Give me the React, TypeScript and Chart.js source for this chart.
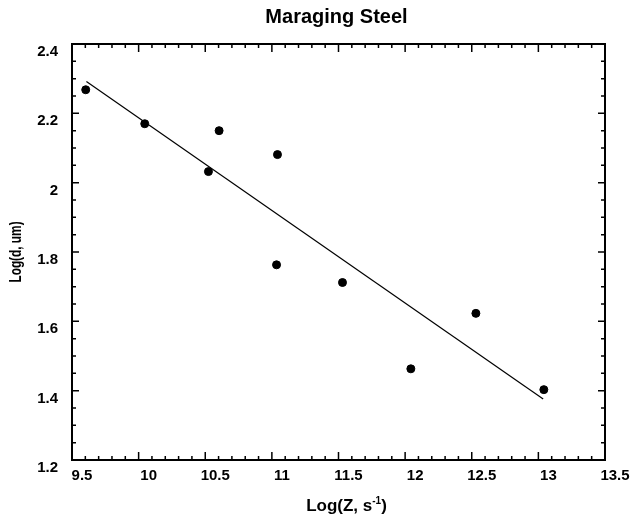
import React, { useEffect, useRef } from "react";
import { Chart, registerables } from "chart.js";

Chart.register(...registerables);

// Measured points: log of Zener-Hollomon parameter vs log of grain size
const logZ = [9.603, 10.046, 10.524, 10.604, 11.042, 11.035, 11.53, 12.043, 12.531, 13.041];
const logD = [2.268, 2.17, 2.032, 2.15, 2.081, 1.763, 1.712, 1.463, 1.623, 1.403];

// Least-squares fit line end points
const fitZ = [9.608, 13.036];
const fitD = [2.292, 1.376];

const xTickLabels = ["9.5", "10", "10.5", "11", "11.5", "12", "12.5", "13", "13.5"];
const yTickLabels = ["1.2", "1.4", "1.6", "1.8", "2", "2.2", "2.4"];

const chartTitle = "Maraging Steel";
const yTitle = "Log(d, um)";
const xTitleMain = "Log(Z, s";
const xTitleSup = "-1";
const xTitleEnd = ")";

const FONT = "'Liberation Sans', Arial, Helvetica, sans-serif";

// Frame with inward major/minor ticks on all four sides, plus titles
const framePlugin = {
  id: "frameTicks",
  afterDraw(chart: any) {
    const { ctx, chartArea } = chart;
    const { left, right, top, bottom } = chartArea;
    const xs = chart.scales.x;
    const ys = chart.scales.y;
    ctx.save();
    ctx.strokeStyle = "#000";
    ctx.lineWidth = 2;
    ctx.strokeRect(left, top, right - left, bottom - top);

    ctx.lineWidth = 1.5;
    ctx.beginPath();
    // x ticks every 0.1, major every 0.5
    for (let i = 0; i <= 40; i++) {
      const v = xs.min + i * 0.1;
      const px = xs.getPixelForValue(v);
      const len = i % 5 === 0 ? 8 : 4;
      ctx.moveTo(px, bottom);
      ctx.lineTo(px, bottom - len);
      ctx.moveTo(px, top);
      ctx.lineTo(px, top + len);
    }
    // y ticks every 0.05, major every 0.2
    for (let i = 0; i <= 24; i++) {
      const v = ys.min + i * 0.05;
      const py = ys.getPixelForValue(v);
      const len = i % 4 === 0 ? 7 : 4;
      ctx.moveTo(left, py);
      ctx.lineTo(left + len, py);
      ctx.moveTo(right, py);
      ctx.lineTo(right - len, py);
    }
    ctx.stroke();

    ctx.fillStyle = "#000";
    // chart title
    ctx.font = `bold 20px ${FONT}`;
    ctx.textAlign = "center";
    ctx.textBaseline = "alphabetic";
    ctx.fillText(chartTitle, (left + right) / 2 - 2, 23);

    // x axis title with superscript
    const big = `bold 17px ${FONT}`;
    const small = `bold 10px ${FONT}`;
    ctx.font = big;
    const w1 = ctx.measureText(xTitleMain).width;
    const w3 = ctx.measureText(xTitleEnd).width;
    ctx.font = small;
    const w2 = ctx.measureText(xTitleSup).width;
    const total = w1 + w2 + w3;
    let x0 = (left + right) / 2 + 8 - total / 2;
    const base = 511;
    ctx.textAlign = "left";
    ctx.font = big;
    ctx.fillText(xTitleMain, x0, base);
    x0 += w1;
    ctx.font = small;
    ctx.fillText(xTitleSup, x0, base - 7);
    x0 += w2;
    ctx.font = big;
    ctx.fillText(xTitleEnd, x0, base);

    // y axis title, narrow lettering
    ctx.translate(17, (top + bottom) / 2);
    ctx.rotate(-Math.PI / 2);
    ctx.scale(0.74, 1);
    ctx.font = `bold 16px ${FONT}`;
    ctx.textAlign = "center";
    ctx.textBaseline = "middle";
    ctx.fillText(yTitle, 0, 0);
    ctx.restore();
  },
};

export default function App() {
  const canvasRef = useRef<HTMLCanvasElement | null>(null);

  useEffect(() => {
    const canvas = canvasRef.current;
    if (!canvas) return;
    const scatterData = logZ.map((z, i) => ({ x: z, y: logD[i] }));
    const fitData = fitZ.map((z, i) => ({ x: z, y: fitD[i] }));

    const chart = new Chart(canvas, {
      type: "scatter",
      data: {
        datasets: [
          {
            type: "line",
            data: fitData,
            borderColor: "#000",
            borderWidth: 1.2,
            pointRadius: 0,
            fill: false,
          } as any,
          {
            data: scatterData,
            backgroundColor: "#000",
            borderColor: "#000",
            pointRadius: 4,
            pointHoverRadius: 4,
          },
        ],
      },
      options: {
        animation: false,
        responsive: true,
        maintainAspectRatio: false,
        layout: { padding: { top: 44, right: 29, left: 0, bottom: 0 } },
        plugins: {
          legend: { display: false },
          title: { display: false },
          tooltip: { enabled: false },
        },
        scales: {
          x: {
            type: "linear",
            min: 9.5,
            max: 13.5,
            grid: { display: false, drawTicks: false },
            border: { display: false },
            ticks: {
              stepSize: 0.5,
              padding: 7,
              labelOffset: 10,
              color: "#000",
              font: { family: FONT, size: 15, weight: "bold" },
              callback: (_v: any, i: number) => xTickLabels[i],
            },
            afterFit: (s: any) => {
              s.height = 58;
            },
          },
          y: {
            type: "linear",
            min: 1.2,
            max: 2.4,
            grid: { display: false, drawTicks: false },
            border: { display: false },
            ticks: {
              stepSize: 0.2,
              padding: 14,
              labelOffset: 8,
              color: "#000",
              font: { family: FONT, size: 15, weight: "bold" },
              callback: (_v: any, i: number) => yTickLabels[i],
            },
            afterFit: (s: any) => {
              s.width = 72;
            },
          },
        },
      },
      plugins: [framePlugin],
    });
    return () => chart.destroy();
  }, []);

  return (
    <div style={{ position: "fixed", left: 0, top: 0, width: 634, height: 518, background: "#fff" }}>
      <canvas ref={canvasRef} />
    </div>
  );
}
